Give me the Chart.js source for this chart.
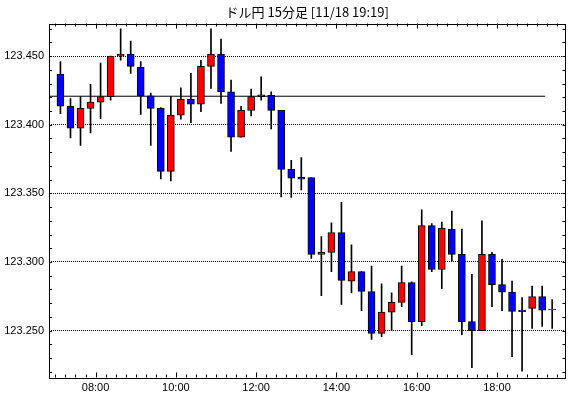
<!DOCTYPE html>
<html>
<head>
<meta charset="utf-8">
<script src="https://cdn.jsdelivr.net/npm/chart.js@4.4.0/dist/chart.umd.min.js"></script>
<style>
  html, body { margin: 0; padding: 0; background: #fff; }
  #wrap { width: 570px; height: 398px; }
</style>
</head>
<body>
<div id="wrap"><canvas id="chart"></canvas></div>
<script>
// 15 minute bars, start time of each bar
var times = ['07:00','07:15','07:30','07:45','08:00','08:15','08:30','08:45','09:00','09:15',
             '09:30','09:45','10:00','10:15','10:30','10:45','11:00','11:15','11:30','11:45',
             '12:00','12:15','12:30','12:45','13:00','13:15','13:30','13:45','14:00','14:15',
             '14:30','14:45','15:00','15:15','15:30','15:45','16:00','16:15','16:30','16:45',
             '17:00','17:15','17:30','17:45','18:00','18:15','18:30','18:45','19:00','19:15'];
var opens  = [123.437, 123.4135, 123.3975, 123.412, 123.4165, 123.4205, 123.450, 123.4515, 123.442, 123.421,
              123.412, 123.366, 123.407, 123.4185, 123.415, 123.4425, 123.4515, 123.424, 123.391, 123.4105,
              123.4205, 123.4215, 123.4105, 123.3675, 123.3618, 123.3615, 123.3055, 123.307, 123.3215, 123.286,
              123.293, 123.2785, 123.248, 123.2635, 123.2705, 123.285, 123.2565, 123.3265, 123.2945, 123.324,
              123.3055, 123.2565, 123.250, 123.3055, 123.2835, 123.278, 123.2650, 123.2662, 123.2747, 123.2650];
var highs  = [123.446, 123.419, 123.4205, 123.4295, 123.445, 123.450, 123.470, 123.461, 123.446, 123.423,
              123.4125, 123.4205, 123.427, 123.4375, 123.447, 123.470, 123.4625, 123.4325, 123.4135, 123.426,
              123.435, 123.424, 123.4105, 123.374, 123.376, 123.3615, 123.3185, 123.3285, 123.3435, 123.3125,
              123.293, 123.297, 123.284, 123.2775, 123.297, 123.2855, 123.338, 123.328, 123.329, 123.337,
              123.324, 123.291, 123.330, 123.307, 123.302, 123.286, 123.274, 123.2825, 123.2825, 123.2725];
var lows   = [123.408, 123.3905, 123.385, 123.394, 123.4045, 123.418, 123.447, 123.4375, 123.4075, 123.385,
              123.3605, 123.359, 123.404, 123.4015, 123.4095, 123.4265, 123.4155, 123.3805, 123.391, 123.4065,
              123.418, 123.397, 123.3475, 123.347, 123.3525, 123.3025, 123.2755, 123.293, 123.269, 123.2775,
              123.2645, 123.2435, 123.2455, 123.250, 123.2675, 123.2325, 123.2535, 123.293, 123.2805, 123.3005,
              123.247, 123.223, 123.250, 123.2675, 123.2645, 123.231, 123.2205, 123.2515, 123.253, 123.2515];
var closes = [123.4135, 123.3975, 123.412, 123.4165, 123.4205, 123.450, 123.4515, 123.4425, 123.421, 123.412,
              123.366, 123.407, 123.4185, 123.415, 123.4425, 123.4515, 123.424, 123.391, 123.4105, 123.4205,
              123.4218, 123.4105, 123.3675, 123.361, 123.3603, 123.3055, 123.307, 123.3215, 123.2865, 123.293,
              123.2785, 123.248, 123.2635, 123.2705, 123.285, 123.2565, 123.3265, 123.2945, 123.3245, 123.3055,
              123.2565, 123.250, 123.3055, 123.2835, 123.278, 123.264, 123.2637, 123.2747, 123.2648, 123.2656];

var yTicks = [123.25, 123.30, 123.35, 123.40, 123.45];
var xTickLabels = ['08:00', '10:00', '12:00', '14:00', '16:00', '18:00'];
var refPrice = 123.4208;   // solid horizontal line
var refEnd = '19:12';
var title = 'ドル円 15分足 [11/18 19:19]';

function toMin(s) {
  var p = s.split(':');
  return parseInt(p[0], 10) * 60 + parseInt(p[1], 10);
}

var xMin = 410.4, xMax = 1182.4;
var yMin = 123.2158, yMax = 123.4738;

var wickData = times.map(function(t, i) {
  return { x: toMin(t) + 7.5, y: [lows[i], highs[i]] };
});
var bodyData = times.map(function(t, i) {
  return { x: toMin(t) + 7.5, y: [opens[i], closes[i]] };
});
var bodyColors = times.map(function(t, i) {
  return closes[i] >= opens[i] ? '#ff0000' : '#0000ff';
});

// frame + small tick marks inside the plot
var framePlugin = {
  id: 'frame',
  afterDraw: function(chart) {
    var ctx = chart.ctx, a = chart.chartArea;
    var xs = chart.scales.x, ys = chart.scales.y;
    ctx.save();
    ctx.strokeStyle = '#000';
    ctx.lineWidth = 1;
    ctx.beginPath();
    // y minor ticks every 0.01
    for (var v = 123.22; v < yMax; v += 0.01) {
      var y = Math.round(ys.getPixelForValue(v)) + 0.5;
      ctx.moveTo(a.left, y); ctx.lineTo(a.left + 3, y);
      ctx.moveTo(a.right, y); ctx.lineTo(a.right - 3, y);
    }
    // x ticks every 15 min, longer every 2 hours
    for (var m = 420; m < xMax; m += 15) {
      var x = Math.round(xs.getPixelForValue(m)) + 0.5;
      var len = (m % 120 === 0) ? 5 : 3;
      ctx.moveTo(x, a.top); ctx.lineTo(x, a.top + len);
      ctx.moveTo(x, a.bottom); ctx.lineTo(x, a.bottom - len);
    }
    ctx.stroke();
    ctx.strokeRect(Math.round(a.left) + 0.5, Math.round(a.top) + 0.5,
                   Math.round(a.right - a.left) - 1, Math.round(a.bottom - a.top));
    ctx.restore();
  }
};

var tickFont = { family: 'Liberation Sans', size: 11 };

new Chart(document.getElementById('chart'), {
  type: 'bar',
  data: {
    datasets: [
      {
        type: 'line',
        data: [{ x: xMin, y: refPrice }, { x: toMin(refEnd), y: refPrice }],
        borderColor: '#000',
        borderWidth: 1,
        pointRadius: 0,
        order: 3
      },
      {
        data: wickData,
        backgroundColor: '#000',
        barThickness: 1,
        grouped: false,
        order: 2
      },
      {
        data: bodyData,
        backgroundColor: bodyColors,
        borderColor: '#000',
        borderWidth: 1,
        borderSkipped: false,
        barThickness: 7,
        grouped: false,
        order: 1
      }
    ]
  },
  options: {
    responsive: true,
    maintainAspectRatio: false,
    animation: false,
    devicePixelRatio: 1,
    layout: { padding: { left: 0, right: 4.5, top: 0, bottom: 0 } },
    plugins: {
      legend: { display: false },
      tooltip: { enabled: false },
      title: {
        display: true,
        text: title,
        fullSize: false,
        color: '#000',
        font: { family: 'Noto Sans CJK JP', size: 13, weight: 'normal' },
        padding: { top: 4, bottom: 3.9 }
      }
    },
    scales: {
      x: {
        type: 'linear',
        min: xMin,
        max: xMax,
        offset: false,
        afterBuildTicks: function(s) {
          s.ticks = xTickLabels.map(function(l) { return { value: toMin(l) }; });
        },
        afterFit: function(s) { s.height = 20.5; },
        ticks: {
          autoSkip: false,
          maxRotation: 0,
          padding: 4,
          color: '#000',
          font: tickFont,
          callback: function(v) {
            var h = Math.floor(v / 60), m = v % 60;
            return (h < 10 ? '0' : '') + h + ':' + (m < 10 ? '0' : '') + m;
          }
        },
        grid: { display: false, drawTicks: false },
        border: { display: false }
      },
      y: {
        type: 'linear',
        min: yMin,
        max: yMax,
        afterBuildTicks: function(s) {
          s.ticks = yTicks.map(function(v) { return { value: v }; });
        },
        afterFit: function(s) { s.width = 49; },
        ticks: {
          padding: 5,
          color: '#000',
          font: tickFont,
          callback: function(v) { return Number(v).toFixed(3); }
        },
        grid: { color: '#000', lineWidth: 1, drawTicks: false },
        border: { display: false, dash: [1, 1] }
      }
    }
  },
  plugins: [framePlugin]
});
</script>
</body>
</html>
